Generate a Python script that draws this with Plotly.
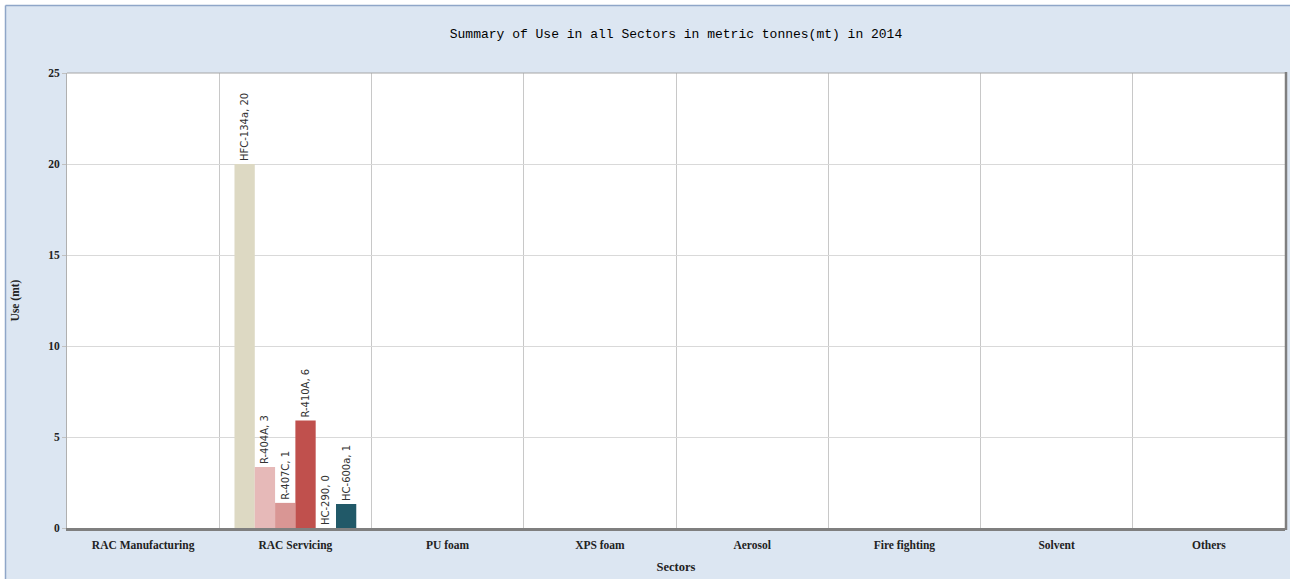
import plotly.graph_objects as go

sectors = ["RAC Manufacturing", "RAC Servicing", "PU foam", "XPS foam",
           "Aerosol", "Fire fighting", "Solvent", "Others"]
substances = ["HFC-134a", "R-404A", "R-407C", "R-410A", "HC-290", "HC-600a"]
# Use (mt) in the RAC Servicing sector; other sectors have no reported use
servicing_use = [20.0, 3.35, 1.38, 5.9, 0.0, 1.32]
colors = ["#ddd9c3", "#e6b9b8", "#d99694", "#c0504d", "#4f81bd", "#215968"]
y_ticks = [0, 5, 10, 15, 20, 25]

W, H = 1290, 579
ML, MR, MT, MB = 67, 5, 73, 51
PW, PH = W - ML - MR, H - MT - MB


def px_x(p):
    return (p - ML) / PW


def px_y(p):
    return (H - MB - p) / PH


fig = go.Figure()
for name, val, col in zip(substances, servicing_use, colors):
    ys = [val if s == "RAC Servicing" else None for s in sectors]
    txt = [f"{name}, {round(val)}" if s == "RAC Servicing" else "" for s in sectors]
    fig.add_trace(go.Bar(
        x=sectors, y=ys, name=name, marker=dict(color=col, line=dict(width=0)),
        text=txt, textposition="outside", textangle=-90, constraintext="none",
        textfont=dict(family="DejaVu Sans", size=10, color="#333333"),
        cliponaxis=False, showlegend=False,
    ))

serif = "Liberation Serif"
shapes = [
    # white margin strips outside the chart frame
    dict(type="rect", xref="paper", yref="paper", layer="below",
         x0=px_x(-10), x1=px_x(W + 10), y0=px_y(5.5), y1=px_y(-10),
         fillcolor="white", line=dict(width=0)),
    dict(type="rect", xref="paper", yref="paper", layer="below",
         x0=px_x(-10), x1=px_x(5.5), y0=px_y(H + 10), y1=px_y(-10),
         fillcolor="white", line=dict(width=0)),
    # frame lines
    dict(type="line", xref="paper", yref="paper", layer="below",
         x0=px_x(5.5), x1=px_x(W + 10), y0=px_y(5.5), y1=px_y(5.5),
         line=dict(color="#8fa6c8", width=1.5)),
    dict(type="line", xref="paper", yref="paper", layer="below",
         x0=px_x(5.5), x1=px_x(5.5), y0=px_y(5.5), y1=px_y(H + 10),
         line=dict(color="#8fa6c8", width=1.5)),
    # plot area top edge and right shadow
    dict(type="line", xref="paper", yref="paper", layer="above",
         x0=0, x1=1, y0=1, y1=1, line=dict(color="#a6a6a6", width=1)),
    dict(type="line", xref="paper", yref="paper", layer="above",
         x0=px_x(ML + PW + 1), x1=px_x(ML + PW + 1), y0=px_y(MT - 1), y1=px_y(H - MB + 2),
         line=dict(color="#7f7f7f", width=2.5)),
]

fig.update_layout(
    width=W, height=H,
    margin=dict(l=ML, r=MR, t=MT, b=MB),
    paper_bgcolor="#dce6f2", plot_bgcolor="white",
    barmode="group", bargap=0.2, bargroupgap=0,
    title=dict(text="Summary of Use in all Sectors in metric tonnes(mt) in 2014",
               x=0.5, xref="paper", xanchor="center",
               y=1 - 33 / H, yref="container", yanchor="middle",
               font=dict(family="Liberation Mono", size=13, color="#000000")),
    shapes=shapes,
    xaxis=dict(
        categoryorder="array", categoryarray=sectors,
        tickson="boundaries", showgrid=True, gridcolor="#c8c8c8", gridwidth=1,
        ticks="", showline=True, linecolor="#7f7f7f", linewidth=2.5,
        ticklabelstandoff=4,
        tickfont=dict(family=serif, size=11.5, color="#222222", weight="bold"),
        title=dict(text="Sectors", standoff=12,
                   font=dict(family=serif, size=12.5, color="#222222", weight="bold")),
        automargin=False,
    ),
    yaxis=dict(
        range=[0, 25], tickvals=y_ticks, showgrid=True, gridcolor="#d9d9d9",
        ticks="outside", ticklen=4, tickcolor="#c0c0c0",
        showline=True, linecolor="#b0b0b0", linewidth=1, zeroline=False,
        tickfont=dict(family=serif, size=11.5, color="#222222", weight="bold"),
        title=dict(text="Use (mt)", standoff=26,
                   font=dict(family=serif, size=11.5, color="#222222", weight="bold")),
        automargin=False,
    ),
)

fig.write_html(
    "out.html",
    config={"displayModeBar": False},
    post_script="document.body.style.margin='0';document.body.style.overflow='hidden';",
)
